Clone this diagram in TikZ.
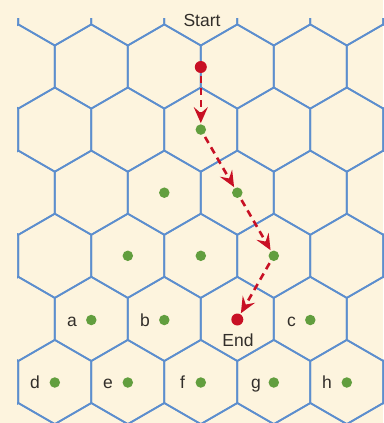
\documentclass[tikz,border=0pt]{standalone}
\usepackage{fontspec}
\setmainfont{Liberation Sans}
\usetikzlibrary{arrows.meta}
\definecolor{bg}{RGB}{253,244,222}
\definecolor{hexblue}{RGB}{92,142,206}
\definecolor{pathred}{RGB}{200,16,36}
\definecolor{dotgreen}{RGB}{98,158,62}
\definecolor{lblgray}{RGB}{50,46,42}
\begin{document}
\begin{tikzpicture}[x=1pt,y=-1pt,
  hexline/.style={draw=hexblue,line width=1.7pt,line join=round},
  gdot/.style={circle,fill=dotgreen,inner sep=0pt,minimum size=10.5pt},
  rdot/.style={circle,fill=pathred,inner sep=0pt,minimum size=12pt},
  lbl/.style={font=\fontsize{17.5}{17.5}\selectfont,text=lblgray,inner sep=0pt,anchor=base},
  pathar/.style={draw=pathred,line width=2.6pt,dash pattern=on 7pt off 5pt,
    -{Stealth[length=16pt,width=14pt,inset=6pt]},shorten >=1pt,shorten <=3pt}
]
\useasboundingbox (0,0) rectangle (383,423);
\fill[bg] (0,0) rectangle (383,423);
\begin{scope}
\clip (17.2,18) rectangle (384,424);
\foreach \r in {0,...,7}{
  \pgfmathsetmacro{\cy}{66.5+(\r-1)*63.1}
  \pgfmathsetmacro{\xo}{ifthenelse(mod(\r,2)==1,18.3,54.8)}
  \foreach \k in {-1,...,5}{
    \pgfmathsetmacro{\cx}{\xo+73*\k}
    \draw[hexline] (\cx,\cy-42.15) -- (\cx+36.5,\cy-21.07) -- (\cx+36.5,\cy+21.07)
      -- (\cx,\cy+42.15) -- (\cx-36.5,\cy+21.07) -- (\cx-36.5,\cy-21.07) -- cycle;
  }
}
\end{scope}
% path dots
\node[rdot] (start) at (200.8,67) {};
\node[gdot] (p1) at (200.8,129.6) {};
\node[gdot] (p2) at (237.3,192.7) {};
\node[gdot] (p3) at (273.8,255.8) {};
\node[rdot] (end) at (237.3,319.5) {};
% other dots
\node[gdot] (q1) at (164.3,192.7) {};
\node[gdot] (q2) at (127.8,255.8) {};
\node[gdot] (q3) at (200.8,255.8) {};
\node[gdot] (da) at (91.3,320) {};
\node[gdot] (db) at (164.3,320) {};
\node[gdot] (dc) at (310.3,320) {};
\node[gdot] (dd) at (54.8,382.5) {};
\node[gdot] (de) at (127.8,382.5) {};
\node[gdot] (df) at (200.8,382.5) {};
\node[gdot] (dg) at (273.8,382.5) {};
\node[gdot] (dh) at (346.8,382.5) {};
% arrows
\draw[pathar] (start) -- (p1);
\draw[pathar] (p1) -- (p2);
\draw[pathar] (p2) -- (p3);
\draw[pathar] (p3) -- (end);
% labels
\node[lbl] (tstart) at (202,26.5) {Start};
\node[lbl] (tend) at (238,346) {End};
\node[lbl] (la) at (72,326) {a};
\node[lbl] (lb) at (145,326) {b};
\node[lbl] (lc) at (291.5,326) {c};
\node[lbl] (ld) at (35,388.5) {d};
\node[lbl] (le) at (108,388.5) {e};
\node[lbl] (lf) at (182.5,388.5) {f};
\node[lbl] (lg) at (256,388.5) {g};
\node[lbl] (lh) at (327,388.5) {h};
\end{tikzpicture}
\end{document}
